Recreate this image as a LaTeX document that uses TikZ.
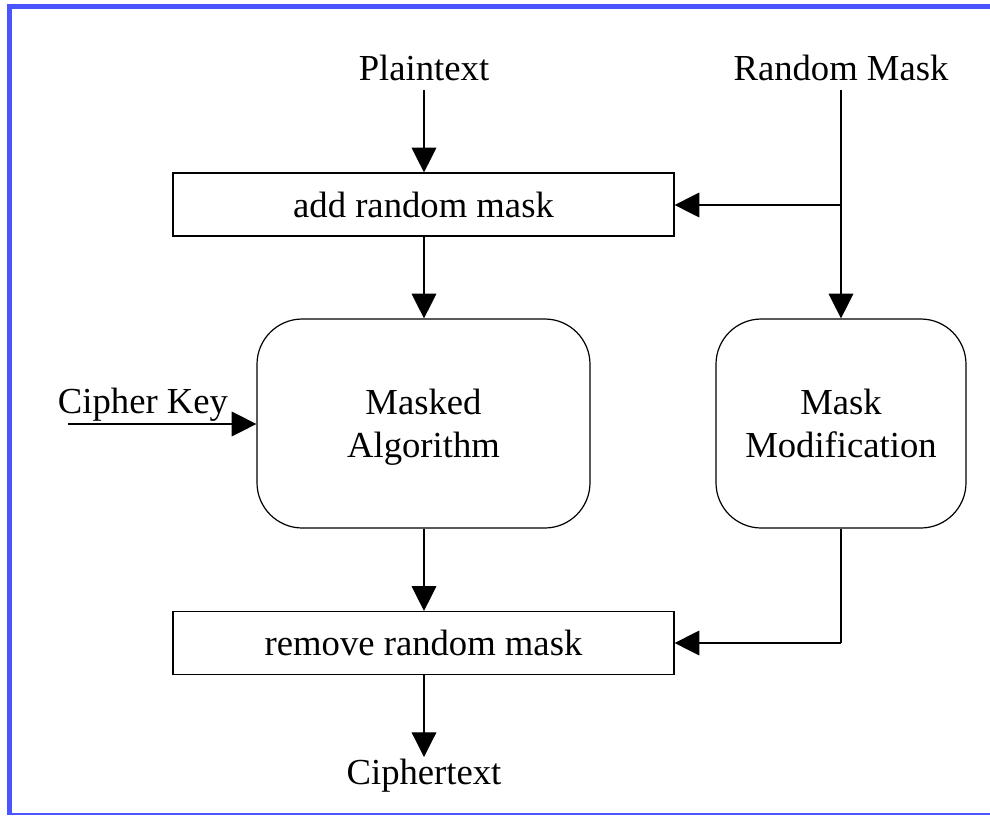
\documentclass[tikz,border=0pt]{standalone}
\usepackage{fontspec}
\setmainfont{Liberation Serif}
\usetikzlibrary{arrows.meta}
\definecolor{frameblue}{HTML}{4A55FF}
\tikzset{
  lbl/.style={font=\fontsize{27.5}{32}\selectfont, inner sep=0pt},
  plainbox/.style={draw, line width=0.9pt, minimum width=375.75pt, minimum height=47.25pt, inner sep=0pt, lbl},
  roundbox/.style={draw, line width=0.9pt, rounded corners=34pt, inner sep=0pt, lbl, align=center, text depth=0pt},
  flow/.style={line width=0.9pt, -{Triangle[length=18.5pt,width=18.5pt]}},
  wire/.style={line width=0.9pt},
}
\begin{document}
\begin{tikzpicture}[x=0.75pt,y=-0.75pt]
\useasboundingbox (0,0) rectangle (990,815);
% frame
\draw[frameblue, line width=3.6pt] (990,6.5) -- (9.8,6.5) -- (9.8,815);
\draw[frameblue, line width=1.5pt] (9.8,814) -- (990,814);

% labels
\node[lbl] (pt) at (424,68) {Plaintext};
\node[lbl] (rm) at (841,68) {Random Mask};
\node[lbl] (ck) at (143,405) {Cipher Key};
\node[lbl] (ct) at (424,776) {Ciphertext};

% boxes
\node[plainbox] (add) at (423.5,204.5) {add random mask};
\node[plainbox] (rem) at (423.5,643) {remove random mask};
\node[roundbox, minimum width=249.75pt, minimum height=156.75pt] (alg) at (423.5,423.5) {Masked\\Algorithm};
\node[roundbox, minimum width=187.5pt, minimum height=156.75pt] (mod) at (841,423.5) {Mask\\Modification};

% junction points
\coordinate (rmtop) at (841,90);
\coordinate (split) at (841,205);
\coordinate (cktail) at (68,424);
\coordinate (modturn) at (841,643);

% connectors
\draw[flow] (424,90) -- (add.north -| 424,0);
\draw[flow] (add.south -| 424,0) -- (alg.north -| 424,0);
\draw[flow] (alg.south -| 424,0) -- (rem.north -| 424,0);
\draw[flow] (rem.south -| 424,0) -- (424,757);
\draw[flow] (rmtop) -- (mod.north);
\draw[flow] (split) -- (split -| add.east);
\draw[flow] (cktail) -- (cktail -| alg.west);
\draw[wire] (mod.south) -- (modturn);
\draw[flow] (modturn) -- (modturn -| rem.east);
\end{tikzpicture}
\end{document}
